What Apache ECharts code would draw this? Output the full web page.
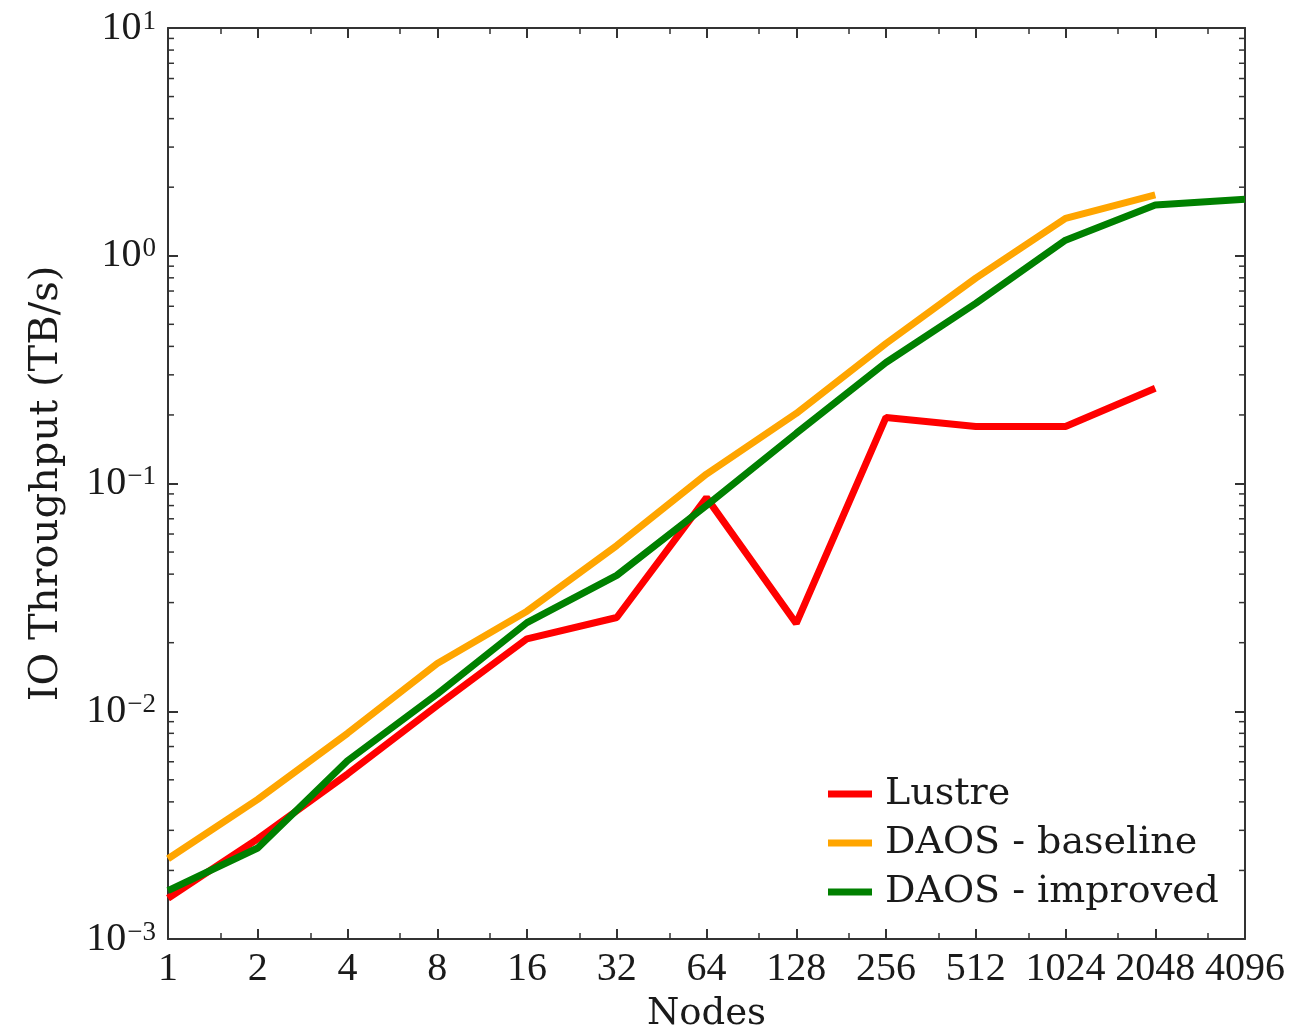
<!DOCTYPE html>
<html>
<head>
<meta charset="utf-8">
<script src="https://cdn.jsdelivr.net/npm/echarts@6/dist/echarts.min.js"></script>
<style>html,body{margin:0;padding:0;background:#fff;}#c{width:1294px;height:1035px;}</style>
</head>
<body>
<div id="c"></div>
<script>
const nodes = [1, 2, 4, 8, 16, 32, 64, 128, 256, 512, 1024, 2048, 4096];
const lustre = [0.00151, 0.00275, 0.0053, 0.0106, 0.0208, 0.0258, 0.0867, 0.0243, 0.195, 0.178, 0.178, 0.262];
const daosBaseline = [0.00225, 0.0041, 0.0080, 0.0162, 0.0275, 0.0534, 0.110, 0.203, 0.412, 0.797, 1.46, 1.85];
const daosImproved = [0.00163, 0.00251, 0.00606, 0.0119, 0.0245, 0.0395, 0.080, 0.166, 0.340, 0.618, 1.17, 1.67, 1.77];
const yMinorTicks = [];
for (let e = -3; e < 1; e++) for (let k = 2; k <= 9; k++) yMinorTicks.push(k * Math.pow(10, e));

const FONT = 'Liberation Serif';
const FONT2 = 'DejaVu Serif';
const AX = '#333';
const TXT = '#1a1a1a';
function pairs(vals) { return vals.map((v, i) => [nodes[i], v]); }
const supMap = {'-':'−','0':'0','1':'1','2':'2','3':'3'};

const chart = echarts.init(document.getElementById('c'));
const xCommon = {
  type: 'log', logBase: 2, min: 1, max: 4096, interval: 1,
  axisLine: {show: true, onZero: false, lineStyle: {color: AX, width: 2}},
  axisTick: {show: true, inside: true, length: 10, lineStyle: {color: AX, width: 2}},
  minorTick: {show: true, splitNumber: 2, length: 6, lineStyle: {color: AX, width: 1.5}},
  splitLine: {show: false}, minorSplitLine: {show: false}
};
const yCommon = {
  type: 'log', logBase: 10, min: 0.001, max: 10,
  axisLine: {show: true, onZero: false, lineStyle: {color: AX, width: 2}},
  axisTick: {show: true, inside: true, length: 10, lineStyle: {color: AX, width: 2}},
  minorTick: {show: false},
  splitLine: {show: false}
};
chart.setOption({
  animation: false,
  backgroundColor: '#fff',
  grid: {left: 168, right: 49, top: 28, bottom: 96, containLabel: false, outerBoundsMode: 'none'},
  xAxis: [
    Object.assign({}, xCommon, {
      position: 'bottom', name: 'Nodes', nameLocation: 'middle', nameGap: 57,
      nameTextStyle: {fontFamily: FONT2, fontSize: 37, color: TXT},
      axisLabel: {fontFamily: FONT, fontSize: 40, color: TXT, margin: 10,
        formatter: v => String(Math.round(v))}
    }),
    Object.assign({}, xCommon, {position: 'top', axisLabel: {show: false}})
  ],
  yAxis: [
    Object.assign({}, yCommon, {
      position: 'left', name: 'IO Throughput (TB/s)', nameLocation: 'middle', nameGap: 101,
      nameTextStyle: {fontFamily: FONT2, fontSize: 40, color: TXT},
      axisLabel: {
        margin: 12,
        formatter: v => {
          const e = Math.round(Math.log10(v));
          const s = String(e).split('').map(c => supMap[c]).join('');
          return '{b|10}{s|' + s + '}';
        },
        rich: {
          b: {fontFamily: FONT, fontSize: 40, color: TXT, lineHeight: 40, verticalAlign: 'middle'},
          s: {fontFamily: FONT, fontSize: 27, color: TXT, lineHeight: 40, verticalAlign: 'top', padding: [0, 0, 14, 1]}
        }
      }
    }),
    Object.assign({}, yCommon, {position: 'right', axisLabel: {show: false}})
  ],
  legend: {
    orient: 'vertical', left: 823, top: 767, itemWidth: 44, itemHeight: 7, itemGap: 5,
    icon: 'rect',
    textStyle: {fontFamily: FONT2, fontSize: 38, color: TXT, lineHeight: 44, padding: [0, 0, 0, 8]},
    data: ['Lustre', 'DAOS - baseline', 'DAOS - improved']
  },
  series: [
    {name: 'Lustre', type: 'line', data: pairs(lustre), showSymbol: false, color: '#ff0000',
      lineStyle: {width: 7, color: '#ff0000'}},
    {name: 'DAOS - baseline', type: 'line', data: pairs(daosBaseline), showSymbol: false, color: '#ffa500',
      lineStyle: {width: 7, color: '#ffa500'}},
    {name: 'DAOS - improved', type: 'line', data: pairs(daosImproved), showSymbol: false, color: '#008000',
      lineStyle: {width: 7, color: '#008000'}},
    {
      type: 'custom', silent: true, clip: false, legendHoverLink: false,
      data: yMinorTicks.map(v => [1, v]),
      renderItem: function (params, api) {
        const y = api.coord([1, api.value(1)])[1];
        const cs = params.coordSys;
        return {
          type: 'group',
          children: [
            {type: 'line', shape: {x1: cs.x, y1: y, x2: cs.x + 6, y2: y}, style: {stroke: AX, lineWidth: 1.5}},
            {type: 'line', shape: {x1: cs.x + cs.width - 6, y1: y, x2: cs.x + cs.width, y2: y}, style: {stroke: AX, lineWidth: 1.5}}
          ]
        };
      }
    }
  ]
});
</script>
</body>
</html>
